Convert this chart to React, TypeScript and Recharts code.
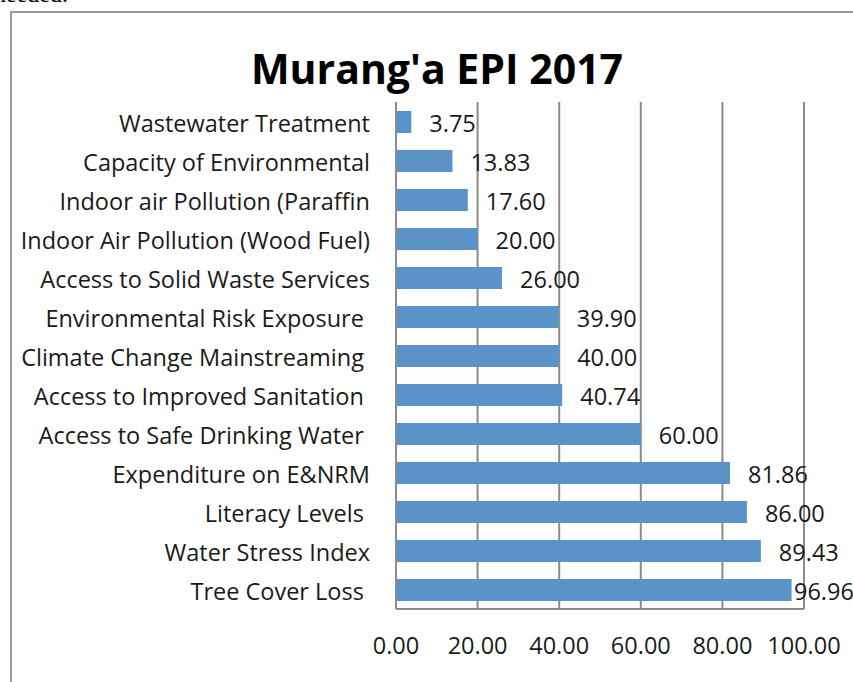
import { BarChart, Bar, XAxis, YAxis, CartesianGrid, LabelList } from 'recharts';

const categories = [
  'Wastewater Treatment',
  'Capacity of Environmental',
  'Indoor air Pollution (Paraffin',
  'Indoor Air Pollution (Wood Fuel)',
  'Access to Solid Waste Services',
  'Environmental Risk Exposure ',
  'Climate Change Mainstreaming ',
  'Access to Improved Sanitation ',
  'Access to Safe Drinking Water ',
  'Expenditure on E&NRM',
  'Literacy Levels ',
  'Water Stress Index',
  'Tree Cover Loss ',
];
const scores = [3.75, 13.83, 17.6, 20.0, 26.0, 39.9, 40.0, 40.74, 60.0, 81.86, 86.0, 89.43, 96.96];
const xTicks = [0, 20, 40, 60, 80, 100];

const data = categories.map((name, i) => ({ name, score: scores[i] }));

const FONT = '"Open Sans", sans-serif';
const TEXT = '#1a1a1a';
const SIZE = 23.5;

// excel squeezes the last label in against the edge
function ValueLabel(props: any) {
  const { x, y, width, height, value } = props;
  const tx = Math.min(x + width + 18, 782);
  return (
    <text x={tx} y={y + height / 2 + 2} dy="0.35em" fill={TEXT} fontSize={SIZE} fontFamily={FONT}>
      {Number(value).toFixed(2)}
    </text>
  );
}

function CategoryTick(props: any) {
  const { x, y, payload } = props;
  return (
    <text
      x={x}
      y={y + 2}
      dy="0.35em"
      textAnchor="end"
      fill={TEXT}
      fontSize={SIZE}
      fontFamily={FONT}
      style={{ whiteSpace: 'pre' }}
    >
      {payload.value}
    </text>
  );
}

export default function App() {
  return (
    <>
      <div
        style={{
          position: 'absolute',
          left: -6,
          top: -19,
          fontFamily: '"Liberation Serif", serif',
          fontSize: 24,
          color: '#000',
        }}
      >
        needed.
      </div>
      <div
        style={{
          position: 'absolute',
          left: 10,
          top: 11,
          width: 880,
          height: 700,
          border: '2px solid #9a9a9a',
          background: '#fff',
        }}
      >
        <div
          style={{
            position: 'absolute',
            left: 0,
            width: 850,
            top: 27,
            textAlign: 'center',
            fontFamily: FONT,
            fontWeight: 700,
            fontSize: 41,
            color: '#000',
          }}
        >
          Murang'a EPI 2017
        </div>
        <BarChart
          layout="vertical"
          width={880}
          height={700}
          data={data}
          margin={{ top: 89, right: 88, bottom: 0, left: 0 }}
          barSize={22}
        >
          <CartesianGrid horizontal={false} stroke="#8c8c8c" strokeWidth={2} />
          <XAxis
            type="number"
            domain={[0, 100]}
            ticks={xTicks}
            tickFormatter={(v: number) => v.toFixed(2)}
            axisLine={{ stroke: '#8c8c8c', strokeWidth: 2 }}
            tickLine={false}
            tickMargin={22}
            height={104}
            tick={{ fill: TEXT, fontSize: SIZE, fontFamily: FONT }}
          />
          <YAxis
            type="category"
            dataKey="name"
            width={384}
            axisLine={{ stroke: '#8c8c8c', strokeWidth: 2 }}
            tickLine={false}
            tickMargin={20}
            interval={0}
            tick={<CategoryTick />}
          />
          <Bar dataKey="score" fill="#5b93c8" isAnimationActive={false}>
            <LabelList dataKey="score" content={<ValueLabel />} />
          </Bar>
        </BarChart>
      </div>
    </>
  );
}
